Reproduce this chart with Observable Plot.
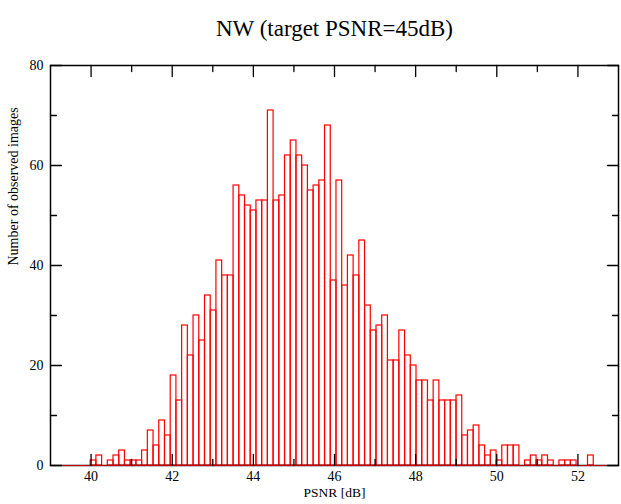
<!DOCTYPE html>
<html><head><meta charset="utf-8">
<script src="https://cdn.jsdelivr.net/npm/d3@7"></script>
<script src="https://cdn.jsdelivr.net/npm/@observablehq/plot@0.6"></script>
<style>body{margin:0;background:#fff;}</style>
</head><body><div id="chart"></div>
<script>
// Histogram of PSNR values
const binStart = 39.99;
const binWidth = 0.1409;
const counts = [
  1,2,0,1,2,3,1,1,1,3,7,4,9,6,
  18,13,28,22,30,25,34,31,41,38,38,
  56,54,52,51,53,53,71,53,54,62,65,62,60,55,56,57,68,
  37,57,36,42,38,45,32,27,28,30,21,21,27,
  22,20,17,17,13,17,13,13,13,14,6,7,8,4,2,3,1,4,4,4,
  0,1,2,1,2,1,0,1,1,1,0,0,2
];
const xMajorTicks = [40,42,44,46,48,50,52];
const xMinorTicks = [41,43,45,47,49,51];
const yMajorTicks = [0,20,40,60,80];
const yMinorTicks = [10,30,50,70];
const xDomain = [39,53];
const yDomain = [0,80];
const title = "NW (target PSNR=45dB)";
const xLabel = "PSNR [dB]";
const yLabel = "Number of observed images";

const bins = counts.map((c, i) => ({x1: binStart + i * binWidth, x2: binStart + (i + 1) * binWidth, count: c}));
const tickShape = {draw(ctx, l) { ctx.moveTo(0, 0); ctx.lineTo(0, -l); }};
const tk = (data, ch, anchor, rot, len) => Plot.vector(data, {
  [ch]: d => d, frameAnchor: anchor, rotate: rot, length: len, anchor: "start",
  shape: tickShape, stroke: "black", strokeWidth: 1.3
});

const chart = Plot.plot({
  width: 621, height: 504,
  marginLeft: 50, marginRight: 3, marginTop: 65, marginBottom: 39,
  style: {fontFamily: "'Liberation Serif', 'DejaVu Serif', serif", background: "white", color: "black"},
  x: {domain: xDomain},
  y: {domain: yDomain},
  marks: [
    Plot.rectY(bins, {x1: "x1", x2: "x2", y1: 0, y2: "count", inset: 0, fill: "none", stroke: "red", strokeWidth: 1.2}),
    Plot.frame({stroke: "black", strokeWidth: 1.5}),
    Plot.ruleY([0], {stroke: "#c00000", strokeWidth: 1}),
    tk(xMajorTicks, "x", "bottom", 0, 11),
    tk(xMinorTicks, "x", "bottom", 0, 6),
    tk(xMajorTicks, "x", "top", 180, 11),
    tk(xMinorTicks, "x", "top", 180, 6),
    tk(yMajorTicks, "y", "left", 90, 11),
    tk(yMinorTicks, "y", "left", 90, 6),
    tk(yMajorTicks, "y", "right", -90, 11),
    tk(yMinorTicks, "y", "right", -90, 6),
    Plot.axisX(xMajorTicks, {tickSize: 0, tickPadding: 6, fontSize: 14, label: null, fill: "black"}),
    Plot.axisY(yMajorTicks, {tickSize: 0, tickPadding: 7, fontSize: 14, label: null, fill: "black"}),
    Plot.text([xLabel], {frameAnchor: "bottom", dy: 31, fontSize: 13.5, fill: "black"}),
    Plot.text([yLabel], {frameAnchor: "left", dx: -37, rotate: -90, fontSize: 14, fill: "black"}),
    Plot.text([title], {frameAnchor: "top", dy: -46, fontSize: 23, fill: "black"})
  ]
});
document.getElementById("chart").appendChild(chart);
</script>
</body></html>
